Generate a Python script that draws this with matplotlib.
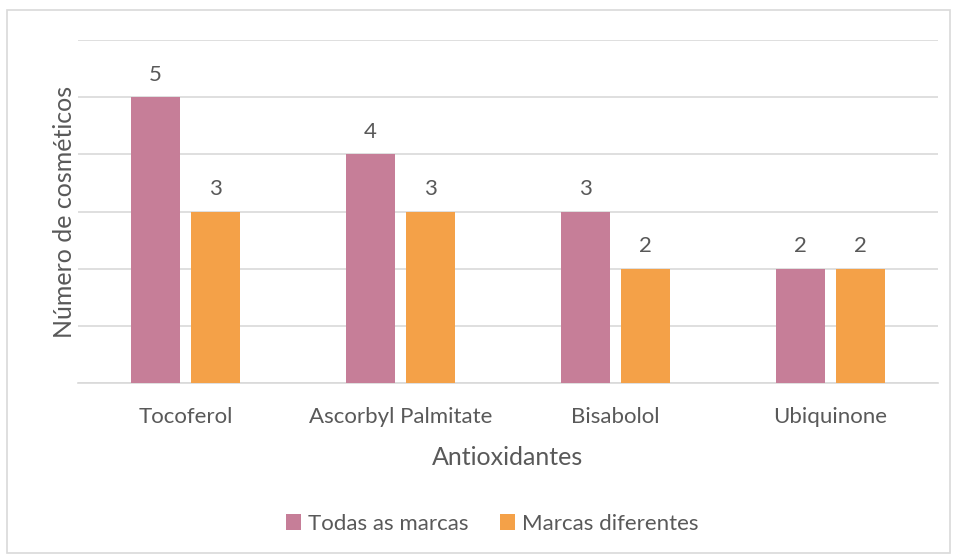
import numpy as np
import matplotlib
matplotlib.use("Agg")
import matplotlib.pyplot as plt
from matplotlib.patches import Rectangle

# data
categories = ["Tocoferol", "Ascorbyl Palmitate", "Bisabolol", "Ubiquinone"]
todas = [5, 4, 3, 2]
diferentes = [3, 3, 2, 2]
series_names = ["Todas as marcas", "Marcas diferentes"]

PINK = "#C67E98"
ORANGE = "#F4A148"
TEXT = "#595959"
GRID = "#D9D9D9"

plt.rcParams['font.family'] = ['Lato', 'DejaVu Sans']

fig = plt.figure(figsize=(9.54, 5.59), dpi=100)
ax = fig.add_axes([78/954, 1-383/559, (938-78)/954, (383-40)/559])

x = np.arange(len(categories))
w = 0.228
off = 0.14
b1 = ax.bar(x - off, todas, w, color=PINK, label=series_names[0], zorder=3)
b2 = ax.bar(x + off, diferentes, w, color=ORANGE, label=series_names[1], zorder=3)

for bars in (b1, b2):
    for r in bars:
        ax.annotate(str(int(r.get_height())), (r.get_x() + r.get_width()/2, r.get_height()),
                    xytext=(0, 9), textcoords="offset points", ha="center", va="bottom",
                    fontsize=16, color=TEXT)

ax.set_xlim(-0.5, len(categories) - 0.5)
ax.set_ylim(0, 6)
ax.set_yticks(range(0, 7))
ax.set_yticklabels([])
ax.tick_params(axis="y", length=0)
ax.tick_params(axis="x", length=0, pad=17, labelsize=16, labelcolor=TEXT)
ax.set_xticks(x)
ax.set_xticklabels(categories)
ax.grid(axis="y", color=GRID, linewidth=1.2, zorder=0)
for s in ["top", "right", "left"]:
    ax.spines[s].set_visible(False)
ax.spines["bottom"].set_color(GRID)
ax.spines["bottom"].set_linewidth(1.2)

ax.set_xlabel("Antioxidantes", fontsize=18, color=TEXT, labelpad=14)
ax.set_ylabel("Número de cosméticos", fontsize=18, color=TEXT, labelpad=-2)

fig.legend(handles=[b1, b2], loc="center", bbox_to_anchor=(492/954, 1-524/559), ncol=2,
           frameon=False, fontsize=16, labelcolor=TEXT, handlelength=0.7, handleheight=0.7,
           columnspacing=1.4, handletextpad=0.3)

fig.patches.append(Rectangle((7/954, 1-553/559), 943/954, 543/559, transform=fig.transFigure,
                             fill=False, edgecolor="#D9D9D9", linewidth=1.2))

fig.savefig("out.png", dpi=100)
